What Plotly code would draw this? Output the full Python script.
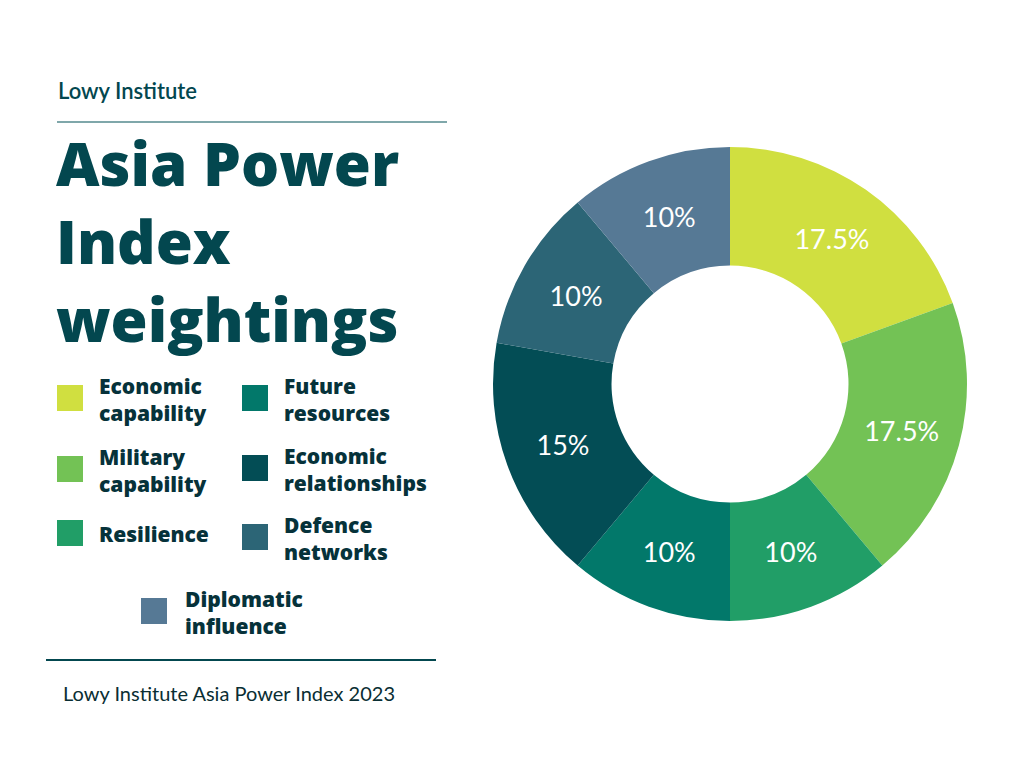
import plotly.graph_objects as go

# pillar weightings, Lowy Institute Asia Power Index 2023
categories = ['Economic capability', 'Military capability', 'Resilience', 'Future resources',
              'Economic relationships', 'Defence networks', 'Diplomatic influence']
weights = [17.5, 17.5, 10, 10, 15, 10, 10]
colors = ['#d0df40', '#73c255', '#219e67', '#02786a', '#034d55', '#2c6576', '#567995']

# legend text, split over two lines as in the original
legend_text = ['Economic<br>capability', 'Military<br>capability', 'Resilience', 'Future<br>resources',
               'Economic<br>relationships', 'Defence<br>networks', 'Diplomatic<br>influence']

W, H = 1024, 768
OFF = 8  # page body margin
teal = '#03474f'
dark = '#06323a'

def px(x):
    return (x - OFF) / W

def py(y):
    return 1 - (y - OFF) / H

fig = go.Figure(go.Pie(
    labels=categories,
    values=weights,
    hole=0.5,
    sort=False,
    direction='clockwise',
    rotation=0,
    marker=dict(colors=colors, line=dict(width=0)),
    texttemplate='%{value}%',
    textposition='inside',
    insidetextorientation='horizontal',
    insidetextfont=dict(family='Lato', size=27, color='white'),
    showlegend=False,
    domain=dict(x=[px(730 - 237), px(730 + 237)], y=[py(384 + 237), py(384 - 237)]),
))

ann = []
shapes = []

ann.append(dict(x=px(56), y=py(90), text='Lowy Institute', xanchor='left', yanchor='middle',
                font=dict(family='Lato', size=22, color=teal, weight=600)))
shapes.append(dict(type='line', xref='paper', yref='paper', x0=px(57), x1=px(447), y0=py(122), y1=py(122),
                   line=dict(color='#7fa7aa', width=2)))

ann.append(dict(x=px(54), y=py(241), text='Asia Power<br>Index<br>weightings', xanchor='left',
                yanchor='middle', align='left',
                font=dict(family='Open Sans', size=60, color=teal, weight=800)))

# legend positions (square left, square centre y, text left)
leg_pos = [(57, 398, 97), (57, 469, 97), (57, 533, 97),
           (242, 398, 282), (242, 468, 282), (242, 537, 282), (141, 611, 183)]
for (sx, sy, tx), txt, c in zip(leg_pos, legend_text, colors):
    shapes.append(dict(type='rect', xref='paper', yref='paper', x0=px(sx), x1=px(sx + 26),
                       y0=py(sy - 13), y1=py(sy + 13), fillcolor=c, line=dict(width=0)))
    ann.append(dict(x=px(tx), y=py(sy + 1), text=txt, xanchor='left', yanchor='middle',
                    align='left', font=dict(family='Open Sans', size=21, color=dark, weight=800)))

shapes.append(dict(type='line', xref='paper', yref='paper', x0=px(46), x1=px(436), y0=py(660), y1=py(660),
                   line=dict(color=teal, width=2)))
ann.append(dict(x=px(61), y=py(693), text='Lowy Institute Asia Power Index 2023', xanchor='left',
                yanchor='middle', font=dict(family='Lato', size=20, color='#0a2e33')))

for a in ann:
    a.update(xref='paper', yref='paper', showarrow=False)

fig.update_layout(
    width=W, height=H,
    margin=dict(l=0, r=0, t=0, b=0),
    paper_bgcolor='white',
    plot_bgcolor='white',
    annotations=ann,
    shapes=shapes,
)

fig.write_html('out.html')
